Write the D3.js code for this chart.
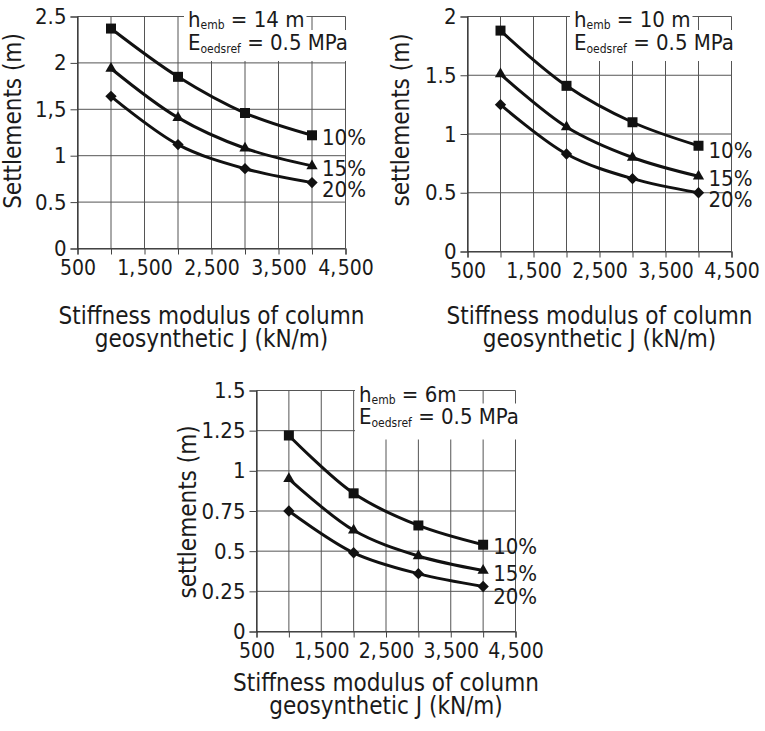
<!DOCTYPE html>
<html>
<head>
<meta charset="utf-8">
<script src="https://cdn.jsdelivr.net/npm/d3@7"></script>
<style>
  body { margin: 0; background: #fff; }
  svg { display: block; }
  text { font-family: "DejaVu Sans Condensed", "DejaVu Sans", sans-serif; fill: #1a1a1a; }
</style>
</head>
<body>
<svg id="chart" width="765" height="731"></svg>
<script>
// Column geosynthetic stiffness J (kN/m) at which settlements were computed
const stiffness = [1000, 2000, 3000, 4000];
// Replacement ratio of each curve
const seriesNames = ["10%", "15%", "20%"];

// Grid / tick positions along the stiffness axis and the labelled subset
const xGridValues = [500, 1000, 1500, 2000, 2500, 3000, 3500, 4000, 4500];
const xLabelValues = [500, 1500, 2500, 3500, 4500];
const xLabelTexts = ["500", "1,500", "2,500", "3,500", "4,500"];

// Embankment height 14 m
const settleH14 = [
  [2.37, 1.85, 1.46, 1.22],
  [1.94, 1.41, 1.08, 0.89],
  [1.64, 1.12, 0.86, 0.71]
];
const yTicksH14 = [0, 0.5, 1, 1.5, 2, 2.5];
const yLabelsH14 = ["0", "0.5", "1", "1,5", "2", "2.5"];

// Embankment height 10 m
const settleH10 = [
  [1.88, 1.41, 1.10, 0.90],
  [1.51, 1.06, 0.80, 0.64],
  [1.25, 0.83, 0.62, 0.50]
];
const yTicksH10 = [0, 0.5, 1, 1.5, 2];
const yLabelsH10 = ["0", "0.5", "1", "1.5", "2"];

// Embankment height 6 m
const settleH6 = [
  [1.22, 0.86, 0.66, 0.54],
  [0.95, 0.63, 0.47, 0.38],
  [0.75, 0.49, 0.36, 0.28]
];
const yTicksH6 = [0, 0.25, 0.5, 0.75, 1, 1.25, 1.5];
const yLabelsH6 = ["0", "0.25", "0.5", "0.75", "1", "1.25", "1.5"];

const hembTexts = ["14 m", "10 m", "6m"];
const yTitles = ["Settlements (m)", "settlements (m)", "settlements (m)"];

// Panel placement on the page
const panels = [
  { data: settleH14, ticks: yTicksH14, labels: yLabelsH14, hemb: hembTexts[0], yTitle: yTitles[0],
    left: 77.5, right: 345.5, top: 16.5, bottom: 248.5,
    yTitleX: 21, yTitleY: 121, xTitleY: 323.5, noteX: 188, noteY: 27, noteGap: 23, notePad: 11,
    labelShift: [2, 2, 7] },
  { data: settleH10, ticks: yTicksH10, labels: yLabelsH10, hemb: hembTexts[1], yTitle: yTitles[1],
    left: 467.5, right: 731.5, top: 16.5, bottom: 251.5,
    yTitleX: 409, yTitleY: 120, xTitleY: 323.5, noteX: 574, noteY: 27, noteGap: 23, notePad: 11,
    labelShift: [5, 2, 7] },
  { data: settleH6, ticks: yTicksH6, labels: yLabelsH6, hemb: hembTexts[2], yTitle: yTitles[2],
    left: 256.5, right: 515.5, top: 390.5, bottom: 631.5,
    yTitleX: 196, yTitleY: 512, xTitleY: 690.5, noteX: 359, noteY: 402, noteGap: 21.5, notePad: 16,
    labelShift: [2, 3, 10] }
];

const svg = d3.select("#chart");
svg.append("rect").attr("width", 765).attr("height", 731).attr("fill", "#fff");

// Marker shapes: square, triangle, diamond
const markers = [
  d3.symbol().type(d3.symbolSquare).size(100),
  d3.symbol().type(d3.symbolTriangle).size(55),
  d3.symbol().type(d3.symbolSquare).size(64)
];
const markerRotate = [0, 0, 45];

function drawPanel(p) {
  const g = svg.append("g");
  const x = d3.scaleLinear().domain([500, 4500]).range([p.left, p.right]);
  const yMax = p.ticks[p.ticks.length - 1];
  const y = d3.scaleLinear().domain([0, yMax]).range([p.bottom, p.top]);

  // grid
  g.append("g").selectAll("line").data(xGridValues).join("line")
    .attr("x1", d => x(d)).attr("x2", d => x(d))
    .attr("y1", p.top).attr("y2", p.bottom)
    .attr("stroke", "#555").attr("stroke-width", 1);
  g.append("g").selectAll("line").data(p.ticks).join("line")
    .attr("x1", p.left).attr("x2", p.right)
    .attr("y1", d => y(d)).attr("y2", d => y(d))
    .attr("stroke", "#555").attr("stroke-width", 1);

  // axes
  const xAxis = d3.axisBottom(x).tickValues(xGridValues).tickSize(6).tickPadding(6).tickFormat("");
  const gx = g.append("g").attr("transform", `translate(0,${p.bottom})`).call(xAxis);
  // stiffness labels; the digits after the thousands comma are set slightly apart
  gx.selectAll(".tick").filter(d => xLabelValues.includes(d)).each(function (d) {
    const label = xLabelTexts[xLabelValues.indexOf(d)];
    const t = d3.select(this).select("text").text(null);
    const parts = label.split(",");
    if (parts.length === 1) {
      t.text(label);
    } else {
      t.append("tspan").text(parts[0] + ",");
      t.append("tspan").attr("dx", 1.5).text(parts[1]);
    }
  });
  const yAxis = d3.axisLeft(y).tickValues(p.ticks).tickSize(7).tickPadding(4)
    .tickFormat((d, i) => p.labels[i]);
  const gy = g.append("g").attr("transform", `translate(${p.left},0)`).call(yAxis);
  [gx, gy].forEach(a => {
    a.select(".domain").attr("stroke", "#333").attr("stroke-width", 1.2);
    a.selectAll(".tick line").attr("stroke", "#444");
    a.selectAll(".tick text").attr("font-size", 22).attr("fill", "#1a1a1a")
      .attr("font-family", "DejaVu Sans Condensed, DejaVu Sans, sans-serif");
  });
  gx.selectAll(".tick text").attr("font-size", 21);

  // parameter note with white backing
  const note = g.append("g");
  const t1 = note.append("text").attr("x", p.noteX).attr("y", p.noteY).attr("font-size", 22);
  t1.append("tspan").text("h");
  t1.append("tspan").attr("font-size", 12).attr("dy", 2).text("emb");
  t1.append("tspan").attr("dy", -2).text(" = " + p.hemb);
  const y2 = p.noteY + p.noteGap;
  const t2 = note.append("text").attr("x", p.noteX).attr("y", y2).attr("font-size", 22);
  t2.append("tspan").text("E");
  t2.append("tspan").attr("font-size", 12).attr("dy", 3).text("oedsref");
  t2.append("tspan").attr("dy", -3).text(" = 0.5 MPa");
  const b1 = t1.node().getBBox();
  const b2 = t2.node().getBBox();
  note.insert("rect", "text").attr("x", b1.x - 4).attr("y", b1.y + 2)
    .attr("width", b1.width + 6).attr("height", b1.height).attr("fill", "#fff");
  note.insert("rect", "text").attr("x", b2.x - 4).attr("y", b2.y)
    .attr("width", b2.width + 4).attr("height", y2 + p.notePad - b2.y).attr("fill", "#fff");

  // curves
  const line = d3.line().x(d => x(d[0])).y(d => y(d[1])).curve(d3.curveCatmullRom.alpha(0.5));
  p.data.forEach((vals, si) => {
    const pts = stiffness.map((s, i) => [s, vals[i]]);
    g.append("path").attr("d", line(pts)).attr("fill", "none")
      .attr("stroke", "#111").attr("stroke-width", 3);
    g.append("g").selectAll("path").data(pts).join("path")
      .attr("d", markers[si])
      .attr("transform", d => `translate(${x(d[0])},${y(d[1])}) rotate(${markerRotate[si]})`)
      .attr("fill", "#111");
    const last = pts[pts.length - 1];
    g.append("text").attr("x", x(last[0]) + 10).attr("y", y(last[1]) + p.labelShift[si])
      .attr("dy", "0.35em").attr("font-size", 22).text(seriesNames[si]);
  });

  // axis titles
  g.append("text").attr("transform", `translate(${p.yTitleX},${p.yTitleY}) rotate(-90)`)
    .attr("text-anchor", "middle").attr("font-size", 24).text(p.yTitle);
  const cx = (p.left + p.right) / 2;
  const xt = g.append("text").attr("x", cx).attr("y", p.xTitleY).attr("text-anchor", "middle")
    .attr("font-size", 24);
  xt.append("tspan").attr("x", cx).text("Stiffness modulus of column");
  xt.append("tspan").attr("x", cx).attr("dy", 23.5).text("geosynthetic J (kN/m)");
}

panels.forEach(drawPanel);
</script>
</body>
</html>
